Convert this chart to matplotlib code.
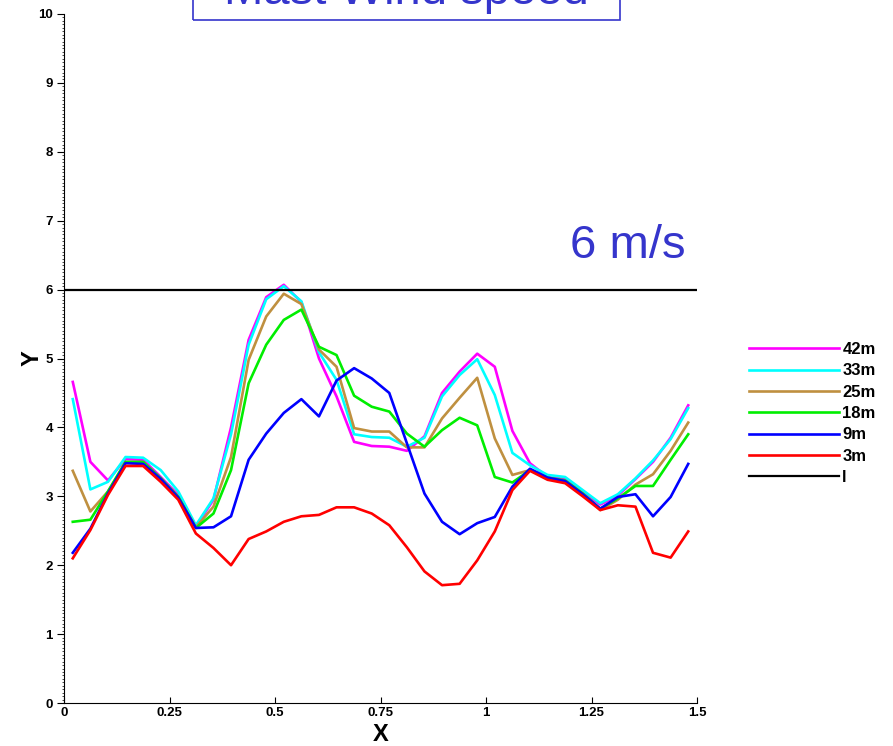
import matplotlib
matplotlib.use("Agg")
import matplotlib.pyplot as plt
from matplotlib.patches import Rectangle
from matplotlib.ticker import MultipleLocator

plt.rcParams['font.family'] = ['Liberation Sans', 'DejaVu Sans']

# sample positions along the mast traverse
x = [0.0208, 0.0625, 0.1042, 0.1458, 0.1875, 0.2292, 0.2708, 0.3125, 0.3542,
     0.3958, 0.4375, 0.4792, 0.5208, 0.5625, 0.6042, 0.6458, 0.6875, 0.7292,
     0.7708, 0.8125, 0.8542, 0.8958, 0.9375, 0.9792, 1.0208, 1.0625, 1.1042,
     1.1458, 1.1875, 1.2292, 1.2708, 1.3125, 1.3542, 1.3958, 1.4375, 1.4792]

h42 = [4.66, 3.50, 3.23, 3.54, 3.53, 3.28, 3.02, 2.56, 2.95, 4.00, 5.27, 5.89,
       6.07, 5.82, 5.00, 4.45, 3.79, 3.73, 3.72, 3.66, 3.87, 4.50, 4.81, 5.07,
       4.88, 3.95, 3.48, 3.28, 3.25, 3.06, 2.88, 3.01, 3.25, 3.50, 3.85, 4.32]
h33 = [4.41, 3.10, 3.21, 3.57, 3.56, 3.38, 3.07, 2.58, 2.97, 3.90, 5.20, 5.86,
       6.05, 5.83, 5.09, 4.69, 3.90, 3.86, 3.85, 3.72, 3.85, 4.45, 4.76, 4.99,
       4.47, 3.63, 3.45, 3.31, 3.28, 3.09, 2.90, 3.03, 3.26, 3.52, 3.83, 4.28]
h25 = [3.37, 2.78, 3.07, 3.49, 3.48, 3.26, 2.99, 2.55, 2.85, 3.57, 4.98, 5.61,
       5.94, 5.79, 5.13, 4.88, 3.99, 3.94, 3.94, 3.71, 3.71, 4.13, 4.43, 4.72,
       3.84, 3.31, 3.38, 3.26, 3.22, 3.04, 2.80, 2.95, 3.17, 3.32, 3.66, 4.07]
h18 = [2.63, 2.66, 3.07, 3.50, 3.50, 3.26, 2.99, 2.54, 2.75, 3.38, 4.64, 5.20,
       5.56, 5.71, 5.17, 5.05, 4.46, 4.30, 4.23, 3.91, 3.72, 3.96, 4.14, 4.03,
       3.28, 3.20, 3.38, 3.27, 3.23, 3.04, 2.82, 2.97, 3.15, 3.15, 3.53, 3.90]
h9 = [2.18, 2.53, 3.04, 3.48, 3.47, 3.25, 2.98, 2.54, 2.55, 2.71, 3.53, 3.91,
      4.21, 4.41, 4.16, 4.68, 4.86, 4.71, 4.50, 3.77, 3.04, 2.63, 2.45, 2.61,
      2.70, 3.14, 3.40, 3.27, 3.22, 3.03, 2.82, 2.99, 3.03, 2.71, 2.99, 3.47]
h3 = [2.10, 2.51, 3.02, 3.44, 3.44, 3.21, 2.95, 2.46, 2.25, 2.00, 2.38, 2.49,
      2.63, 2.71, 2.73, 2.84, 2.84, 2.75, 2.58, 2.26, 1.91, 1.71, 1.73, 2.07,
      2.49, 3.09, 3.37, 3.24, 3.19, 3.00, 2.80, 2.87, 2.85, 2.18, 2.11, 2.49]

series = [h42, h33, h25, h18, h9, h3]
labels = ['42m', '33m', '25m', '18m', '9m', '3m']
colors = ['#ff00ff', '#00ffff', '#bf9040', '#00ee00', '#0000ff', '#ff0000']

limit = 6.0
xticks = [0, 0.25, 0.5, 0.75, 1, 1.25, 1.5]
xticklabels = ['0', '0.25', '0.5', '0.75', '1', '1.25', '1.5']

fig = plt.figure(figsize=(8.93, 7.46), dpi=100)
ax = fig.add_axes([64 / 893, 43 / 746, 633 / 893, 689 / 746])

handles = []
for y, lab, c in zip(series, labels, colors):
    ln, = ax.plot(x, y, color=c, lw=1.9, label=lab)
    handles.append(ln)
ln, = ax.plot([0, 1.5], [limit, limit], color='black', lw=1.6, label='l')
handles.append(ln)

ax.set_xlim(0, 1.5)
ax.set_ylim(0, 10)
ax.set_xticks(xticks)
ax.set_xticklabels(xticklabels)
ax.set_yticks(range(11))
ax.yaxis.set_minor_locator(MultipleLocator(0.05))
ax.tick_params(axis='y', which='major', direction='out', length=5, width=0.8,
               labelsize=9.5, pad=3)
ax.tick_params(axis='y', which='minor', direction='out', length=1.5, width=0.5)
ax.tick_params(axis='x', which='major', direction='in', length=4, width=0.8,
               labelsize=9.5, pad=3)
for t in ax.get_xticklabels() + ax.get_yticklabels():
    t.set_fontweight('bold')
for s in ['top', 'right']:
    ax.spines[s].set_visible(False)
for s in ['left', 'bottom']:
    ax.spines[s].set_linewidth(0.8)

ax.set_xlabel('X', fontsize=17, fontweight='bold', labelpad=3)
ax.set_ylabel('Y', fontsize=17, fontweight='bold', labelpad=-4)

ax.text(1.474, 6.46, '6 m/s', ha='right', va='baseline', fontsize=34,
        color='#3535cc')

leg = ax.legend(handles=handles, loc='upper left',
                bbox_to_anchor=(749 / 893, 1 - 342 / 746),
                bbox_transform=fig.transFigure, frameon=False,
                handlelength=5.4, handletextpad=0.2, labelspacing=0.38,
                borderpad=0, borderaxespad=0,
                prop={'size': 12, 'weight': 'bold'})

# title box running off the top edge
fig.text(406 / 893, 1 - 4 / 746, 'Mast Wind speed', ha='center',
         va='baseline', fontsize=34, color='#3535cc')
fig.add_artist(Rectangle((192.5 / 893, 1 - 20 / 746), 427.5 / 893, 0.2,
                         transform=fig.transFigure, fill=False,
                         edgecolor='#3535cc', lw=1.2))

fig.savefig('out.png', dpi=100)
